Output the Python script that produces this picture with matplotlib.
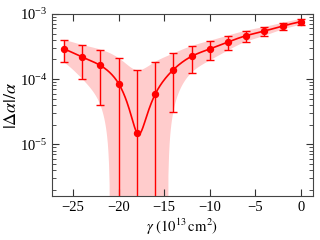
import numpy as np
import matplotlib
matplotlib.use("Agg")
import matplotlib.pyplot as plt

# gamma values (10^13 cm^2) and relative error |d alpha|/alpha with 1-sigma errors
gamma = [-26, -24, -22, -20, -18, -16, -14, -12, -10, -8, -6, -4, -2, 0]
dalpha = [2.92e-4, 2.18e-4, 1.62e-4, 8.55e-5, 1.5e-5, 5.8e-5, 1.39e-4,
          2.23e-4, 2.9e-4, 3.7e-4, 4.64e-4, 5.47e-4, 6.53e-4, 7.62e-4]
err = [1.1e-4, 1.17e-4, 1.22e-4, 1.25e-4, 1.22e-4, 1.25e-4, 1.08e-4,
       0.98e-4, 0.97e-4, 0.95e-4, 0.89e-4, 0.85e-4, 0.77e-4, 0.8e-4]


def spline(x, y, xs):
    # natural cubic spline, just for drawing a smooth curve through the points
    x = np.asarray(x, float)
    y = np.asarray(y, float)
    n = len(x)
    h = np.diff(x)
    A = np.zeros((n, n))
    b = np.zeros(n)
    A[0, 0] = A[-1, -1] = 1.0
    for i in range(1, n - 1):
        A[i, i - 1] = h[i - 1]
        A[i, i] = 2 * (h[i - 1] + h[i])
        A[i, i + 1] = h[i]
        b[i] = 3 * ((y[i + 1] - y[i]) / h[i] - (y[i] - y[i - 1]) / h[i - 1])
    c = np.linalg.solve(A, b)
    out = np.empty_like(xs)
    for k, xv in enumerate(xs):
        i = min(max(np.searchsorted(x, xv) - 1, 0), n - 2)
        t = xv - x[i]
        bi = (y[i + 1] - y[i]) / h[i] - h[i] * (2 * c[i] + c[i + 1]) / 3
        di = (c[i + 1] - c[i]) / (3 * h[i])
        out[k] = y[i] + bi * t + c[i] * t ** 2 + di * t ** 3
    return out


plt.rcParams["font.family"] = ["Liberation Serif", "DejaVu Serif"]
plt.rcParams["mathtext.fontset"] = "stix"
plt.rcParams["font.size"] = 10

fig = plt.figure(figsize=(3.2, 2.4), dpi=100)
ax = fig.add_axes([0.1625, 0.183, 0.815, 0.759])

xs = np.linspace(gamma[0], gamma[-1], 400)
ys = spline(gamma, dalpha, xs)
es = spline(gamma, err, xs)
lo = ys - es
lo[lo <= 0] = 1e-9

ax.fill_between(xs, lo, ys + es, color="#ffcccc", lw=0)
ax.plot(xs, ys, color="red", lw=1.2)
ax.errorbar(gamma, dalpha, yerr=err, fmt="o", color="red", ms=4.3,
            elinewidth=1.0, capsize=3, capthick=1.0)

ax.set_yscale("log", nonpositive="clip")
ax.set_ylim(1.6e-6, 1e-3)
ax.set_xlim(-27.3, 1.3)
ax.set_xticks([-25, -20, -15, -10, -5, 0])
ax.tick_params(which="both", direction="in", top=True, right=True,
               colors="#333333", labelcolor="black", labelsize=10.5)
ax.tick_params(which="major", length=5)
ax.tick_params(which="minor", length=3)
for s in ax.spines.values():
    s.set_color("#444444")

ax.set_xlabel(r"$\gamma\ (10^{13}\,\mathrm{cm}^2)$", fontsize=10.5, labelpad=2)
ax.set_ylabel(r"$|\mathrm{\Delta}\alpha|/\alpha$", fontsize=13, labelpad=0)

fig.savefig("out.png", dpi=100)
